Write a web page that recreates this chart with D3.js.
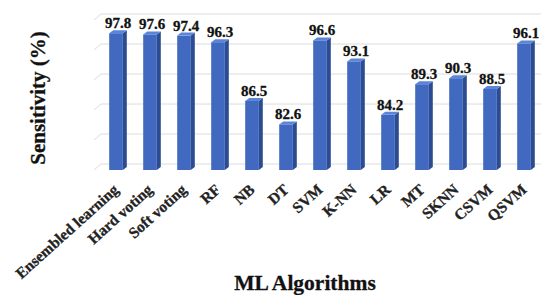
<!DOCTYPE html>
<html><head><meta charset="utf-8">
<script src="https://cdn.jsdelivr.net/npm/d3@7"></script>
<style>html,body{margin:0;padding:0;background:#fff;}svg{display:block;}</style>
</head><body>
<svg id="c" width="543" height="295"></svg>
<script>
const categories = ["Ensembled learning","Hard voting","Soft voting","RF","NB","DT","SVM","K-NN","LR","MT","SKNN","CSVM","QSVM"];
const values = [97.8,97.6,97.4,96.3,86.5,82.6,96.6,93.1,84.2,89.3,90.3,88.5,96.1];
const gridTicks = [75,80,85,90,95,100];

const svg = d3.select("#c");
const font = "Liberation Serif, Times New Roman, serif";
const x = d3.scaleBand().domain(categories).range([99,541]).paddingInner(0.6).paddingOuter(0.3);
const y = d3.scaleLinear().domain([75,100]).range([170,20]);
const depth = 4, rise = 3;

// gridlines (back wall with slanted floor edge)
const g = svg.append("g");
gridTicks.forEach(t => {
  const yb = y(t) - 6;
  g.append("line").attr("x1",101).attr("x2",541).attr("y1",yb).attr("y2",yb)
    .attr("stroke","#dcdcdc").attr("stroke-width",1);
  g.append("line").attr("x1",94).attr("x2",101).attr("y1",yb+6).attr("y2",yb)
    .attr("stroke","#dcdcdc").attr("stroke-width",1);
});

// bars (3D look)
const bars = svg.append("g").selectAll("g").data(categories).join("g");
bars.each(function(c,i){
  const gg = d3.select(this);
  const x0 = x(c), w = x.bandwidth(), yt = y(values[i]), yb = y(75);
  gg.append("rect").attr("x",x0).attr("y",yt).attr("width",w).attr("height",yb-yt).attr("fill","#4169c0");
  gg.append("path").attr("d",`M${x0+w},${yt}L${x0+w+depth},${yt-rise}L${x0+w+depth},${yb-rise}L${x0+w},${yb}Z`).attr("fill","#2b4b93");
  gg.append("path").attr("d",`M${x0},${yt}L${x0+depth},${yt-rise}L${x0+w+depth},${yt-rise}L${x0+w},${yt}Z`).attr("fill","#5b85d8");
  gg.append("text").attr("x",x0+w/2+2).attr("y",yt-5).attr("text-anchor","middle")
    .attr("font-family",font).attr("font-weight","bold").attr("font-size",15).attr("fill","#111")
    .attr("stroke","#111").attr("stroke-width",0.3)
    .text(values[i].toFixed(1));
});

// x tick labels
svg.append("g").selectAll("text").data(categories).join("text")
  .attr("transform",c=>`translate(${x(c)+x.bandwidth()/2},187) rotate(-42)`)
  .attr("text-anchor","end").attr("dy","0.35em")
  .attr("font-family",font).attr("font-weight","bold").attr("font-size",15.5).attr("fill","#222")
  .attr("stroke","#222").attr("stroke-width",0.3)
  .text(c=>c);

// axis titles
svg.append("text").attr("x",305).attr("y",290).attr("text-anchor","middle")
  .attr("font-family",font).attr("font-weight","bold").attr("font-size",21.5).attr("fill","#111")
  .attr("stroke","#111").attr("stroke-width",0.3)
  .text("ML Algorithms");
svg.append("text").attr("transform","translate(45,98) rotate(-90)").attr("text-anchor","middle")
  .attr("font-family",font).attr("font-weight","bold").attr("font-size",21).attr("fill","#111")
  .attr("stroke","#111").attr("stroke-width",0.3)
  .text("Sensitivity (%)");
</script>
</body></html>
